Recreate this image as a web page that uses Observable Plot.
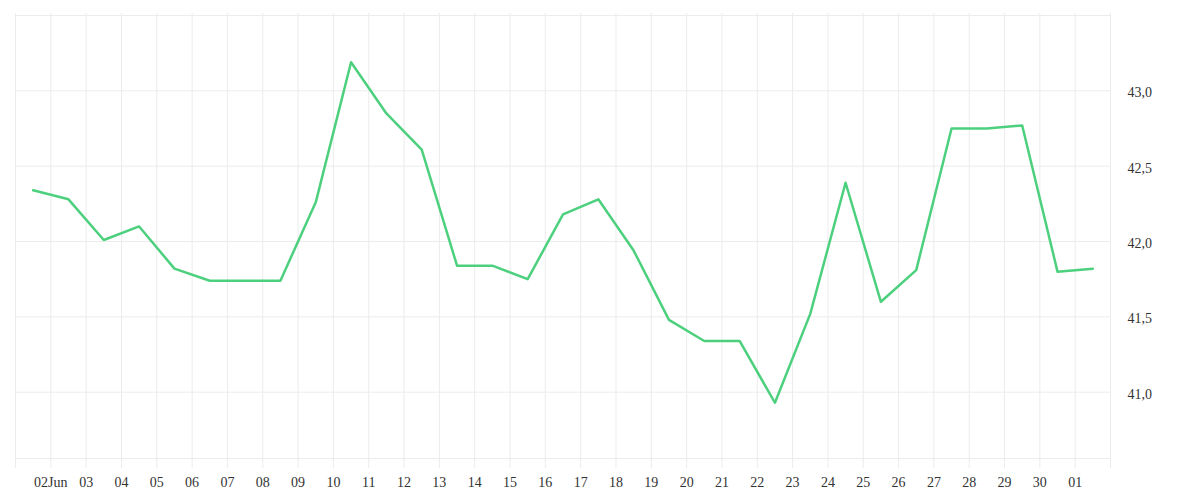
<!DOCTYPE html>
<html><head><meta charset="utf-8">
<script src="https://cdn.jsdelivr.net/npm/d3@7"></script>
<script src="https://cdn.jsdelivr.net/npm/@observablehq/plot@0.6"></script>
<style>body{margin:0;background:#fff;} #chart svg{display:block;} #chart svg, #chart svg text{font-family:"Liberation Serif","Times New Roman",serif !important;font-size:14px;}</style>
</head><body><div id="chart"></div>
<script>
const dates = ["2023-06-01","2023-06-02","2023-06-03","2023-06-04","2023-06-05","2023-06-06","2023-06-07","2023-06-08","2023-06-09","2023-06-10","2023-06-11","2023-06-12","2023-06-13","2023-06-14","2023-06-15","2023-06-16","2023-06-17","2023-06-18","2023-06-19","2023-06-20","2023-06-21","2023-06-22","2023-06-23","2023-06-24","2023-06-25","2023-06-26","2023-06-27","2023-06-28","2023-06-29","2023-06-30","2023-07-01"];
const values = [42.34,42.28,42.01,42.10,41.82,41.74,41.74,41.74,42.26,43.19,42.85,42.61,41.84,41.84,41.75,42.18,42.28,41.94,41.48,41.34,41.34,40.93,41.52,42.39,41.60,41.81,42.75,42.75,42.77,41.80,41.82];
const yTicks = [41.0,41.5,42.0,42.5,43.0];
const yDomain = [40.56,43.5];
const xDomain = ["2023-06-01","2023-07-02"];

const data = dates.map((d,i)=>({date:new Date(d+"T12:00:00Z"), value:values[i]}));
const xDom = xDomain.map(d=>new Date(d+"T00:00:00Z"));
const dayTicks = d3.utcDay.range(xDom[0], d3.utcDay.offset(xDom[1],1));
const dayFmt = d3.utcFormat("%d");
const fmtX = (d,i) => {
  if (+d === +xDom[0] || +d === +xDom[1]) return "";
  if (+d === +d3.utcDay.offset(xDom[0],1)) return dayFmt(d) + d3.utcFormat("%b")(d);
  return dayFmt(d);
};
const grid = "#ececec";

const chart = Plot.plot({
  width:1200, height:500,
  marginLeft:15, marginRight:90, marginTop:15, marginBottom:42,
  style:{fontFamily:"Liberation Serif, serif", fontSize:"14px", color:"#333", background:"#fff"},
  x:{type:"utc", domain:xDom, label:null},
  y:{domain:yDomain, label:null},
  marks:[
    Plot.ruleY(yTicks,{stroke:grid, strokeWidth:1}),
    Plot.ruleX(dayTicks,{stroke:grid, strokeWidth:1}),
    Plot.frame({stroke:grid}),
    Plot.axisX(dayTicks,{anchor:"bottom", tickSize:10, tickPadding:9, stroke:grid, strokeOpacity:1, fill:"#333", tickFormat:fmtX, label:null}),
    Plot.axisX(dayTicks,{anchor:"top", tickSize:3, stroke:grid, strokeOpacity:1, tickFormat:()=>"", label:null}),
    Plot.axisY(yTicks,{anchor:"right", tickSize:0, tickPadding:17, dy:2, textAnchor:"start", fill:"#333", tickFormat:v=>d3.format(".1f")(v).replace(".",","), label:null}),
    Plot.line(data,{x:"date", y:"value", stroke:"#4dd07e", strokeWidth:2.5})
  ]
});
document.getElementById("chart").append(chart);
</script>
</body></html>
